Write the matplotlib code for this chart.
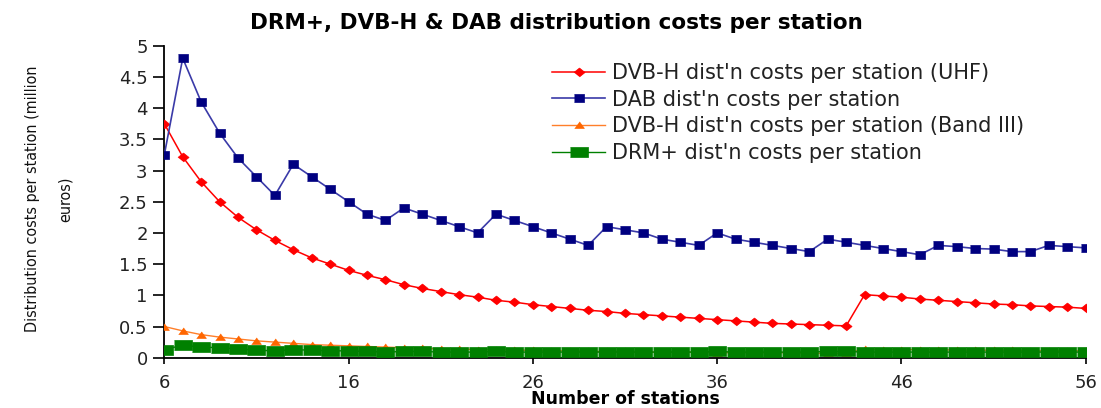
import matplotlib
matplotlib.use("Agg")
import matplotlib.pyplot as plt
from matplotlib import font_manager

# ---------------- data ----------------
stations = list(range(6, 57))

dvbh_uhf = [3.75, 3.22, 2.82, 2.50, 2.25, 2.05, 1.88, 1.73, 1.60, 1.50,
            1.40, 1.32, 1.25, 1.17, 1.11, 1.06, 1.01, 0.97, 0.92, 0.89,
            0.85, 0.82, 0.79, 0.76, 0.74, 0.71, 0.69, 0.67, 0.65, 0.63,
            0.61, 0.59, 0.57, 0.55, 0.54, 0.53, 0.52, 0.51, 1.01, 0.99,
            0.97, 0.94, 0.92, 0.90, 0.88, 0.86, 0.85, 0.83, 0.82, 0.81,
            0.79]

dab = [3.25, 4.80, 4.10, 3.60, 3.20, 2.90, 2.60, 3.10, 2.90, 2.70,
       2.50, 2.30, 2.20, 2.40, 2.30, 2.20, 2.10, 2.00, 2.30, 2.20,
       2.10, 2.00, 1.90, 1.80, 2.10, 2.05, 2.00, 1.90, 1.85, 1.80,
       2.00, 1.90, 1.85, 1.80, 1.75, 1.70, 1.90, 1.85, 1.80, 1.75,
       1.70, 1.65, 1.80, 1.78, 1.75, 1.74, 1.70, 1.70, 1.80, 1.78,
       1.76]

dvbh_band3 = [0.50, 0.43, 0.37, 0.33, 0.30, 0.27, 0.25, 0.23, 0.21, 0.20,
              0.19, 0.18, 0.17, 0.16, 0.15, 0.14, 0.14, 0.13, 0.13, 0.12,
              0.12, 0.11, 0.11, 0.10, 0.10, 0.10, 0.09, 0.09, 0.09, 0.09,
              0.08, 0.08, 0.08, 0.08, 0.08, 0.07, 0.07, 0.07, 0.14, 0.13,
              0.13, 0.13, 0.13, 0.12, 0.12, 0.12, 0.12, 0.11, 0.11, 0.11,
              0.11]

drm_plus = [0.13, 0.20, 0.17, 0.16, 0.14, 0.12, 0.11, 0.13, 0.12, 0.11,
            0.11, 0.10, 0.09, 0.10, 0.10, 0.09, 0.09, 0.09, 0.10, 0.09,
            0.09, 0.09, 0.09, 0.09, 0.09, 0.09, 0.09, 0.09, 0.09, 0.09,
            0.10, 0.09, 0.09, 0.09, 0.09, 0.09, 0.10, 0.10, 0.09, 0.09,
            0.09, 0.09, 0.09, 0.09, 0.09, 0.09, 0.09, 0.09, 0.09, 0.09,
            0.09]

series_labels = ["DVB-H dist'n costs per station (UHF)",
                 "DAB dist'n costs per station",
                 "DVB-H dist'n costs per station (Band III)",
                 "DRM+ dist'n costs per station"]

x_ticks = [6, 16, 26, 36, 46, 56]
y_ticks = [0, 0.5, 1, 1.5, 2, 2.5, 3, 3.5, 4, 4.5, 5]
y_tick_labels = ["0", "0.5", "1", "1.5", "2", "2.5", "3", "3.5", "4", "4.5", "5"]

title = "DRM+, DVB-H & DAB distribution costs per station"
x_label = "Number of stations"
y_label = "Distribution costs per station (million\neuros)"

# ---------------- styling ----------------
plt.rcParams['font.family'] = ['DejaVu Sans']

# try a condensed face for the y label
condensed_ok = False
try:
    p = font_manager.findfont(font_manager.FontProperties(family='DejaVu Sans',
                                                          stretch='condensed'))
    condensed_ok = 'ondensed' in p
except Exception:
    condensed_ok = False

W, H, DPI = 1101, 408, 100
fig = plt.figure(figsize=(W / DPI, H / DPI), dpi=DPI, facecolor='white')
left_px, right_px, top_px, bot_px = 164.3, 1085.7, 45.7, 357.7
ax = fig.add_axes([left_px / W, 1 - bot_px / H,
                   (right_px - left_px) / W, (bot_px - top_px) / H])
ax.set_facecolor('white')

rect_wide = [(-1, -0.75), (1, -0.75), (1, 0.75), (-1, 0.75)]
rect_green = [(-1, -0.6), (1, -0.6), (1, 0.6), (-1, 0.6)]
diamond = [(-1, 0), (0, 0.8), (1, 0), (0, -0.8)]
triangle = [(-1, -0.6), (1, -0.6), (0, 0.75)]

ax.plot(stations, dvbh_uhf, color='#ff0000', lw=1.1, marker=diamond,
        markersize=8, markerfacecolor='#ff0000', markeredgecolor='#ff0000',
        markeredgewidth=0.5, label=series_labels[0], zorder=3)
ax.plot(stations, dab, color='#3a3aa8', lw=1.2, marker=rect_wide,
        markersize=7.4, markerfacecolor='#000080', markeredgecolor='#000080',
        markeredgewidth=0.5, label=series_labels[1], zorder=4)
ax.plot(stations, dvbh_band3, color='#ff7f2a', lw=1.0, marker=triangle,
        markersize=7, markerfacecolor='#ff6600', markeredgecolor='#ff6600',
        markeredgewidth=0.5, label=series_labels[2], zorder=5)
ax.plot(stations, drm_plus, color='#008000', lw=1.0, marker=rect_green,
        markersize=12.4, markerfacecolor='#008000', markeredgecolor='#008000',
        markeredgewidth=0.5, label=series_labels[3], zorder=6)

ax.set_xlim(6, 56)
ax.set_ylim(0, 5)
ax.set_xticks(x_ticks)
ax.set_xticklabels([str(v) for v in x_ticks])
ax.set_yticks(y_ticks)
ax.set_yticklabels(y_tick_labels)

for s in ['top', 'right']:
    ax.spines[s].set_visible(False)
for s in ['left', 'bottom']:
    ax.spines[s].set_linewidth(1.3)
    ax.spines[s].set_color('black')

ax.tick_params(axis='y', direction='out', length=8, width=1.2, pad=4,
               labelsize=13, colors='black')
ax.tick_params(axis='x', direction='out', length=4.5, width=1.2, pad=7,
               labelsize=13, colors='black')
for lab in ax.get_xticklabels() + ax.get_yticklabels():
    lab.set_color('#222222')

# axis labels
ax.set_xlabel(x_label, fontsize=12.5, fontweight='bold', family='DejaVu Sans')
ax.xaxis.set_label_coords(0.5, -(399 - bot_px) / (bot_px - top_px))
ax.xaxis.label.set_va('center')

if condensed_ok:
    ax.set_ylabel(y_label, fontsize=11.5, fontstretch='condensed',
                  linespacing=2.5, multialignment='center')
else:
    ax.set_ylabel(y_label, fontsize=10, linespacing=2.9,
                  multialignment='center')
ax.yaxis.set_label_coords((49 - left_px) / (right_px - left_px),
                          (bot_px - 199) / (bot_px - top_px))
ax.yaxis.label.set_va('center')
ax.yaxis.label.set_ha('center')
ax.yaxis.label.set_color('#111111')

fig.text(556 / W, 1 - 23 / H, title, ha='center', va='center',
         fontsize=15.5, fontweight='bold', family='DejaVu Sans')

leg = ax.legend(loc='upper left', bbox_to_anchor=(552 / W, 1 - 63 / H),
                bbox_transform=fig.transFigure, frameon=False,
                fontsize=15, handlelength=2.55, handletextpad=0.34,
                labelspacing=0.32, borderpad=0, borderaxespad=0)
for t in leg.get_texts():
    t.set_color('#222222')

fig.savefig('out.png', dpi=DPI, facecolor='white')
